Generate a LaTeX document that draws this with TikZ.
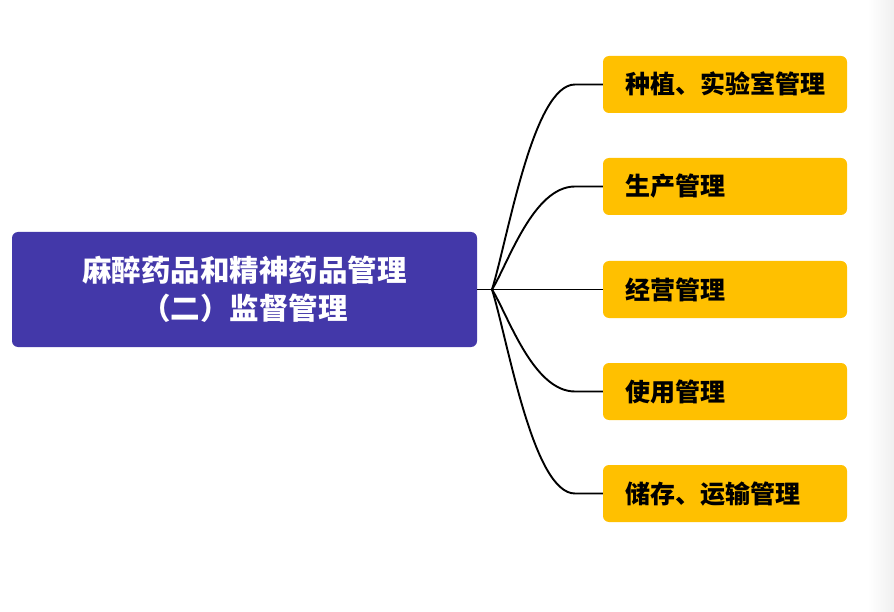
\documentclass[tikz,border=0pt]{standalone}
\usepackage{fontspec}
\newfontfamily\cjk{Noto Sans CJK SC}
\usetikzlibrary{calc}
\definecolor{mainblue}{HTML}{4338A9}
\definecolor{leafyellow}{HTML}{FFC000}
\tikzset{
  mainbox/.style={fill=mainblue, rounded corners=6pt, minimum width=465pt, minimum height=115pt,
    inner sep=0pt, text=white, align=center, font=\cjk\bfseries\fontsize{29.5}{38}\selectfont},
  leafbox/.style={fill=leafyellow, rounded corners=6pt, minimum width=244pt, minimum height=57pt,
    inner xsep=22pt, inner ysep=0pt, text width=200pt, align=left, text=black,
    text height=22pt, text depth=3pt, font=\cjk\bfseries\fontsize{25}{28}\selectfont},
  conn/.style={draw=black, line width=1.9pt}
}
\begin{document}
\begin{tikzpicture}[x=1pt,y=-1pt]
\useasboundingbox (0,0) rectangle (894,612);
\fill[white] (0,0) rectangle (894,612);
\shade[left color=white, right color=black!6] (868,0) rectangle (894,612);
\node[mainbox] (main) at (244.5,289.5) {麻醉药品和精神药品管理\\（二）监督管理};
\node[leafbox] (b1) at (725,84.5) {种植、实验室管理};
\node[leafbox] (b2) at (725,186.5) {生产管理};
\node[leafbox] (b3) at (725,289.5) {经营管理};
\node[leafbox] (b4) at (725,391.5) {使用管理};
\node[leafbox] (b5) at (725,493.5) {储存、运输管理};
\coordinate (hub) at (492,289.5);
\coordinate (e1) at (575,84.5);
\coordinate (e2) at (575,186.5);
\coordinate (e4) at (575,391.5);
\coordinate (e5) at (575,493.5);
\draw[conn] (main.east) -- (hub) -- (b3.west);
\draw[conn] (hub) .. controls (508,238) and (533,84.5) .. (e1) -- (b1.west);
\draw[conn] (hub) .. controls (508,264) and (533,186.5) .. (e2) -- (b2.west);
\draw[conn] (hub) .. controls (508,315) and (533,391.5) .. (e4) -- (b4.west);
\draw[conn] (hub) .. controls (508,341) and (533,493.5) .. (e5) -- (b5.west);
\end{tikzpicture}
\end{document}
